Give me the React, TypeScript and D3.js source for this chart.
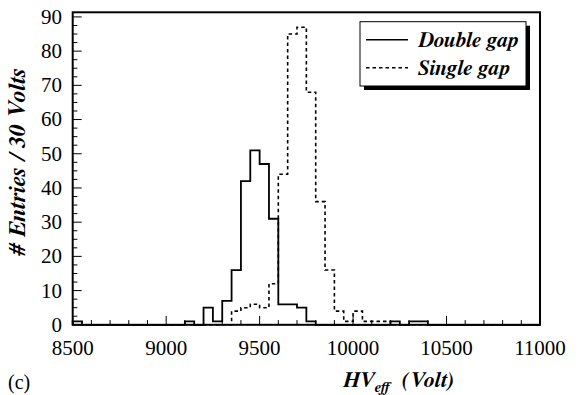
import React from 'react';
import * as d3 from 'd3';

// ---- data ----
const binWidth = 50;
const xDomain: [number, number] = [8500, 11000];
const yMax = 91.35;
const xTickValues = [8500, 9000, 9500, 10000, 10500, 11000];
const yTickValues = [0, 10, 20, 30, 40, 50, 60, 70, 80, 90];

const doubleGapLowEdges = [8500, 9100, 9200, 9250, 9300, 9350, 9400, 9450, 9500, 9550, 9600, 9650, 9700, 9750, 10200, 10300, 10350];
const doubleGapCounts = [1, 1, 5, 1, 7, 16, 42, 51, 47, 31, 6, 6, 5, 1, 1, 1, 1];

const singleGapLowEdges = [9350, 9400, 9450, 9500, 9550, 9600, 9650, 9700, 9750, 9800, 9850, 9900, 9950, 10000, 10050, 10100, 10150];
const singleGapCounts = [4, 5, 6, 5, 12, 44, 85, 87, 68, 36, 16, 4, 1, 4, 1, 1, 1];

const legendLabels = ['Double gap', 'Single gap'];

// ---- layout ----
const W = 582;
const H = 395;
const frame = { left: 72.7, right: 540, top: 12.3, bottom: 324.8 };
const regular: React.CSSProperties = { fontFamily: '"Liberation Serif", "FreeSerif", serif', fontWeight: 'normal', fontStyle: 'normal' };
const boldItalic: React.CSSProperties = { fontFamily: '"FreeSerif", "Liberation Serif", serif', fontWeight: 'bold', fontStyle: 'italic' };

function buildPoints(lows: number[], counts: number[]): [number, number][] {
  const m = new Map<number, number>();
  lows.forEach((l, i) => m.set(l, counts[i]));
  const pts: [number, number][] = [[xDomain[0], 0]];
  const nBins = Math.round((xDomain[1] - xDomain[0]) / binWidth);
  for (let i = 0; i < nBins; i++) {
    const lo = xDomain[0] + i * binWidth;
    pts.push([lo, m.get(lo) ?? 0]);
  }
  pts.push([xDomain[1], 0]);
  return pts;
}

export default function App() {
  const x = d3.scaleLinear().domain(xDomain).range([frame.left, frame.right]);
  const y = d3.scaleLinear().domain([0, yMax]).range([frame.bottom, frame.top]);
  const line = d3
    .line<[number, number]>()
    .x((d) => x(d[0]))
    .y((d) => y(d[1]))
    .curve(d3.curveStepAfter);

  const dPath = line(buildPoints(doubleGapLowEdges, doubleGapCounts)) || '';
  const sPath = line(buildPoints(singleGapLowEdges, singleGapCounts)) || '';

  const xMinor = d3.range(xDomain[0], xDomain[1] + 1, 100);
  const yMinor = d3.range(0, yMax, 2.5);

  const majLen = 9;
  const minLen = 4.7;

  const leg = { x0: 360, y0: 21.7, x1: 526, y1: 86 };

  return (
    <div style={{ position: 'absolute', left: 0, top: 0 }}>
      <svg width={W} height={H} style={{ display: 'block', background: '#fff' }}>
        <rect x={0} y={0} width={W} height={H} fill="#fff" />
        {/* histograms */}
        <path d={sPath} fill="none" stroke="#000" strokeWidth={1.6} strokeDasharray="3.5,3" />
        <path d={dPath} fill="none" stroke="#000" strokeWidth={1.8} />

        {/* x ticks */}
        {xMinor.map((v) => {
          const isMaj = xTickValues.includes(v);
          return (
            <line key={'xt' + v} x1={x(v)} x2={x(v)} y1={frame.bottom} y2={frame.bottom - (isMaj ? majLen : minLen)} stroke="#000" strokeWidth={1} />
          );
        })}
        {/* y ticks */}
        {yMinor.map((v) => {
          const isMaj = yTickValues.includes(v);
          return (
            <line key={'yt' + v} x1={frame.left} x2={frame.left + (isMaj ? majLen : minLen)} y1={y(v)} y2={y(v)} stroke="#000" strokeWidth={1} />
          );
        })}

        {/* frame */}
        <rect x={frame.left} y={frame.top} width={frame.right - frame.left} height={frame.bottom - frame.top} fill="none" stroke="#000" strokeWidth={2} />

        {/* tick labels */}
        {xTickValues.map((v) => (
          <text key={'xl' + v} x={x(v)} y={355} textAnchor="middle" style={regular} fontSize={21} fill="#000">
            {v}
          </text>
        ))}
        {yTickValues.map((v) => (
          <text key={'yl' + v} x={62} y={y(v)} dy="0.33em" textAnchor="end" style={regular} fontSize={21} fill="#000">
            {v}
          </text>
        ))}

        {/* axis titles */}
        <text x={343} y={387} style={boldItalic} fontSize={22} fill="#000">
          HV<tspan fontSize={15} dy={5}>eff</tspan>
          <tspan dy={-5}>{'\u00a0\u00a0(Volt)'}</tspan>
        </text>
        <text
          transform={`translate(25,${162}) rotate(-90)`}
          textAnchor="middle"
          style={boldItalic}
          fontSize={24}
          fill="#000"
        >
          # Entries / 30 Volts
        </text>
        <text x={8} y={389} style={regular} fontSize={20} fill="#000">
          (c)
        </text>

        {/* legend */}
        <rect x={leg.x0 + 4} y={leg.y0 + 4} width={leg.x1 - leg.x0} height={leg.y1 - leg.y0} fill="#000" />
        <rect x={leg.x0} y={leg.y0} width={leg.x1 - leg.x0} height={leg.y1 - leg.y0} fill="#fff" stroke="#000" strokeWidth={1} />
        {legendLabels.map((lab, i) => {
          const cy = leg.y0 + 18 + i * 28;
          return (
            <g key={lab}>
              <line x1={366} x2={408} y1={cy} y2={cy} stroke="#000" strokeWidth={1.5} strokeDasharray={i === 1 ? '3.5,3' : undefined} />
              <text x={418} y={cy} dy="0.33em" style={boldItalic} fontSize={21.5} fill="#000">
                {lab}
              </text>
            </g>
          );
        })}
      </svg>
    </div>
  );
}
